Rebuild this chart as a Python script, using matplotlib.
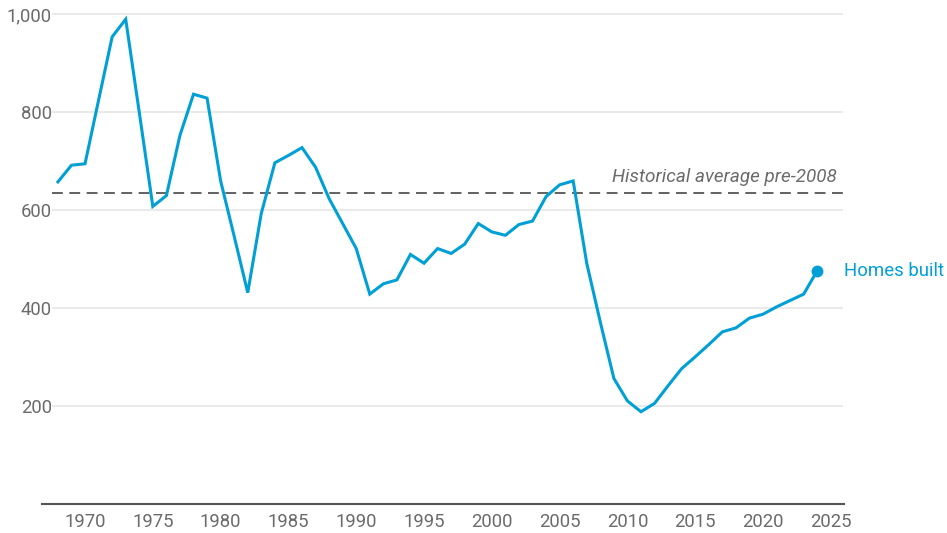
import matplotlib
matplotlib.use("Agg")
import matplotlib.pyplot as plt

# Homes built per year (thousands)
years = list(range(1968, 2025))
homes_built = [
    658, 692, 695, 825, 954, 990, 800, 608, 630, 753,
    837, 829, 660, 547, 432, 594, 697, 712, 728, 688,
    624, 573, 522, 429, 450, 458, 510, 492, 522, 512,
    531, 573, 556, 549, 571, 578, 628, 652, 660, 492,
    372, 257, 211, 189, 206, 242, 277, 301, 326, 352,
    360, 380, 388, 403, 416, 429, 477,
]

historical_avg = 635
avg_label = "Historical average pre-2008"
series_label = "Homes built"

y_ticks = [200, 400, 600, 800, 1000]
x_ticks = [1970, 1975, 1980, 1985, 1990, 1995, 2000, 2005, 2010, 2015, 2020, 2025]

blue = "#00a0d6"
gray_text = "#6b6b6b"

plt.rcParams["font.family"] = ["Roboto", "DejaVu Sans"]

fig = plt.figure(figsize=(9.47, 5.33), dpi=100)
ax = fig.add_axes([0.0444, 0.0538, 0.8468, 0.946])

x_min, x_max = 1966.83, 2025.97
ax.set_xlim(x_min, x_max)
ax.set_ylim(0, 1029)

# gridlines and average line
ax.hlines(y_ticks, 1967.6, 2025.9, color="#e6e6e6", linewidth=1.2, zorder=1)
ax.hlines(historical_avg, 1967.6, 2025.9, color="#555555", linewidth=1.3,
          linestyles=(0, (6, 3.6)), zorder=2)
ax.text(2025.46, 658, avg_label, style="italic", fontsize=13.6,
        color=gray_text, ha="right", va="baseline")

# main series
ax.plot(years, homes_built, color=blue, linewidth=2.2, zorder=3,
        solid_joinstyle="miter")
ax.plot(years[-1], homes_built[-1], "o", color=blue, markersize=7.5, zorder=4)
ax.annotate(series_label, (years[-1], homes_built[-1]), xytext=(19, 0),
            textcoords="offset points", color=blue, fontsize=13.4,
            va="center", ha="left", annotation_clip=False)

# axes styling
for side in ["top", "right", "left"]:
    ax.spines[side].set_visible(False)
ax.spines["bottom"].set_color("#555555")
ax.spines["bottom"].set_linewidth(1.5)

ax.set_yticks(y_ticks)
ax.set_yticklabels([f"{v:,}" for v in y_ticks])
ax.set_xticks(x_ticks)
ax.tick_params(axis="y", length=0, pad=-7.2, labelsize=13.3, labelcolor=gray_text)
ax.tick_params(axis="x", length=0, pad=6, labelsize=13.3, labelcolor=gray_text)

fig.savefig("out.png", dpi=100)
